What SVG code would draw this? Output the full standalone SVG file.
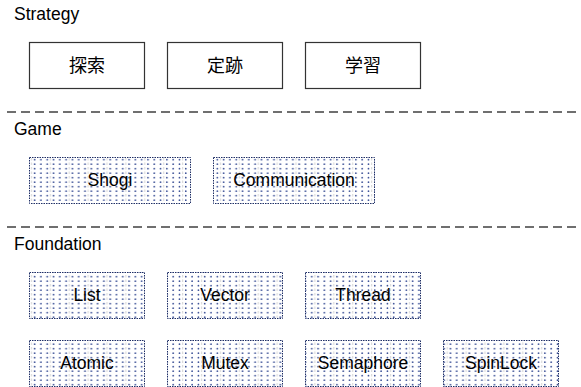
<svg xmlns="http://www.w3.org/2000/svg" width="581" height="387" viewBox="0 0 581 387">
<style>
.lbl{font-family:"Liberation Sans",Arial,sans-serif;font-size:17.5px;fill:#000}
.txt{font-family:"Liberation Sans",Arial,sans-serif;font-size:17.5px;fill:#000;text-anchor:middle}
.cjk{font-family:"Noto Sans CJK JP","Noto Sans CJK SC",sans-serif;font-size:18px;fill:#000;text-anchor:middle}
.solid{fill:#fff;stroke:#333;stroke-width:1.2}
.dot{fill:url(#dots);stroke:#1f2f66;stroke-width:1;stroke-dasharray:1.5 1}
.sep{stroke:#404040;stroke-width:1.4;stroke-dasharray:9 5;fill:none}
</style>
<defs>
<pattern id="dots" patternUnits="userSpaceOnUse" x="0" y="0" width="18.9" height="9">
<rect width="18.9" height="9" fill="#fff"/>
<line x1="12.6" y1="0.5" x2="12.6" y2="3" stroke="#c8c8c8" stroke-width="0.8"/>
<line x1="12.6" y1="5" x2="12.6" y2="7.5" stroke="#c8c8c8" stroke-width="0.8"/>
<g fill="#3a4f96">
<circle cx="3.1" cy="2.2" r="0.85"/><circle cx="9.4" cy="2.2" r="0.85"/><circle cx="15.7" cy="2.2" r="0.85"/>
<circle cx="3.1" cy="6.7" r="0.85"/><circle cx="9.4" cy="6.7" r="0.85"/><circle cx="15.7" cy="6.7" r="0.85"/>
</g>
</pattern>
</defs>
<rect width="581" height="387" fill="#fff"/>
<text class="lbl" x="14" y="20">Strategy</text>
<text class="lbl" x="14" y="135">Game</text>
<text class="lbl" x="14" y="250">Foundation</text>
<g id="connectors">
<line class="sep" x1="7" y1="112" x2="578" y2="112"/>
<line class="sep" x1="7" y1="227" x2="578" y2="227"/>
</g>
<g id="tansaku"><rect class="solid" x="29.5" y="42.5" width="115" height="46"/><text class="cjk" x="87" y="72">探索</text></g>
<g id="joseki"><rect class="solid" x="167.5" y="42.5" width="115" height="46"/><text class="cjk" x="225" y="72">定跡</text></g>
<g id="gakushu"><rect class="solid" x="305.5" y="42.5" width="115" height="46"/><text class="cjk" x="363" y="72">学習</text></g>
<g id="shogi"><rect class="dot" x="29.5" y="157.5" width="161" height="46"/><text class="txt" x="110" y="186">Shogi</text></g>
<g id="communication"><rect class="dot" x="213.5" y="157.5" width="161" height="46"/><text class="txt" x="294" y="186">Communication</text></g>
<g id="list"><rect class="dot" x="29.5" y="272.5" width="115" height="46"/><text class="txt" x="87" y="301">List</text></g>
<g id="vector"><rect class="dot" x="167.5" y="272.5" width="115" height="46"/><text class="txt" x="225" y="301">Vector</text></g>
<g id="thread"><rect class="dot" x="305.5" y="272.5" width="115" height="46"/><text class="txt" x="363" y="301">Thread</text></g>
<g id="atomic"><rect class="dot" x="29.5" y="340.5" width="115" height="46"/><text class="txt" x="87" y="369">Atomic</text></g>
<g id="mutex"><rect class="dot" x="167.5" y="340.5" width="115" height="46"/><text class="txt" x="225" y="369">Mutex</text></g>
<g id="semaphore"><rect class="dot" x="305.5" y="340.5" width="115" height="46"/><text class="txt" x="363" y="369">Semaphore</text></g>
<g id="spinlock"><rect class="dot" x="443.5" y="340.5" width="115" height="46"/><text class="txt" x="501" y="369">SpinLock</text></g>
</svg>
